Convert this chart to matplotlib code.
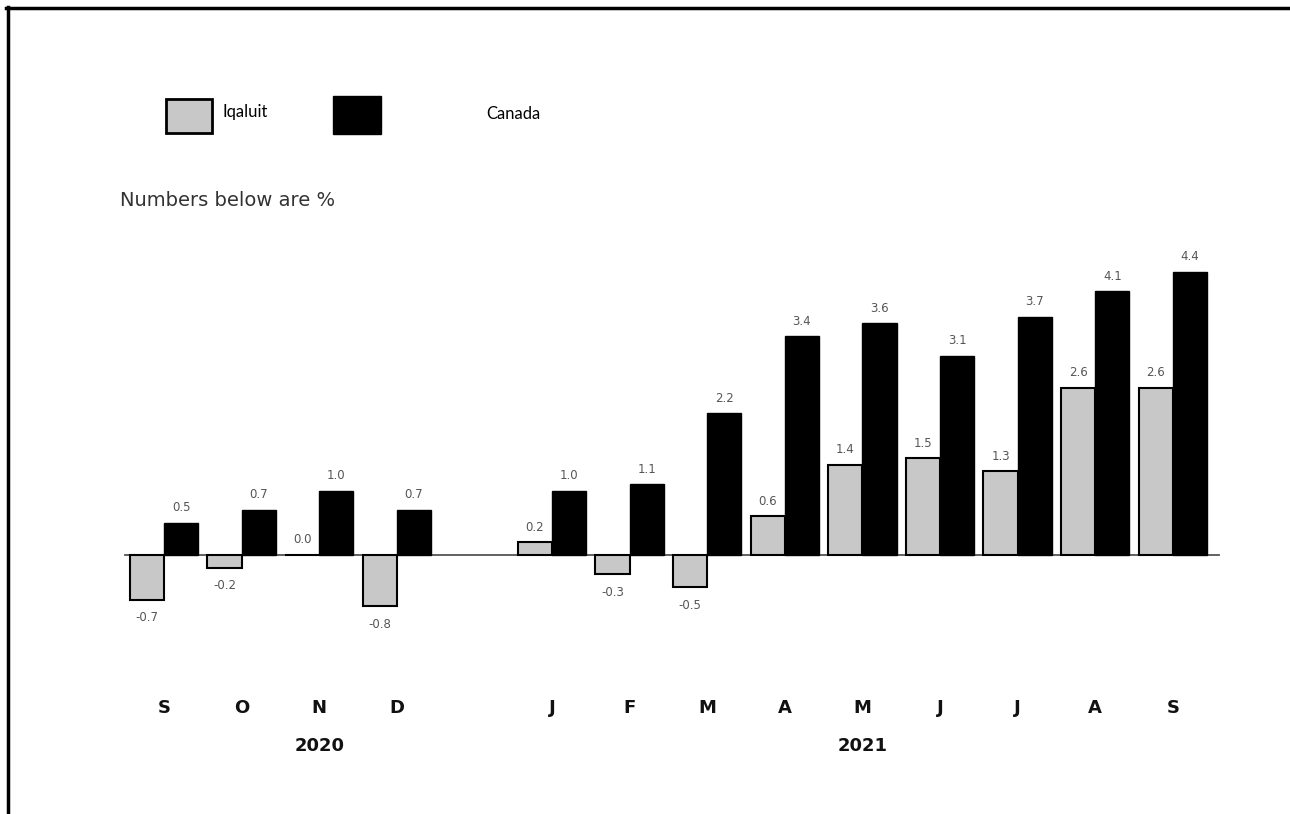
import matplotlib
matplotlib.use("Agg")
import matplotlib.pyplot as plt
from matplotlib.lines import Line2D
from matplotlib.patches import Rectangle
import numpy as np

# Data
months = ["S", "O", "N", "D", "J", "F", "M", "A", "M", "J", "J", "A", "S"]
slots = [0, 1, 2, 3, 5, 6, 7, 8, 9, 10, 11, 12, 13]
years = ["2020", "2021"]
iqaluit = [-0.7, -0.2, 0.0, -0.8, 0.2, -0.3, -0.5, 0.6, 1.4, 1.5, 1.3, 2.6, 2.6]
canada = [0.5, 0.7, 1.0, 0.7, 1.0, 1.1, 2.2, 3.4, 3.6, 3.1, 3.7, 4.1, 4.4]

x = np.array(slots, dtype=float)
width = 0.44

fig = plt.figure(figsize=(12.9, 8.14), dpi=100)
ax = fig.add_axes([0, 0, 1, 1])
ax.set_xlim(-2.113, 14.51)
ax.set_ylim(-4.03, 8.63)
ax.axis("off")

# Bars
ax.bar(x - width / 2, iqaluit, width, color="#c8c8c8", edgecolor="black", linewidth=1.5, zorder=3)
ax.bar(x + width / 2, canada, width, color="black", edgecolor="black", linewidth=1, zorder=3)

# zero line
ax.plot([-0.5, 13.6], [0, 0], color="#555555", linewidth=1.3, zorder=2)

# value labels
label_color = "#555555"
for xi, v in zip(x, iqaluit):
    off = -18 if v < 0 else 15
    ax.annotate(f"{v:.1f}", (xi - width / 2, v), xytext=(0, off), textcoords="offset pixels",
                ha="center", va="center", fontsize=8.5, color=label_color, family="DejaVu Sans")
for xi, v in zip(x, canada):
    ax.annotate(f"{v:.1f}", (xi + width / 2, v), xytext=(0, 15), textcoords="offset pixels",
                ha="center", va="center", fontsize=8.5, color=label_color, family="DejaVu Sans")

# month labels
for xi, m in zip(x, months):
    ax.text(xi, -2.38, m, ha="center", va="center", fontsize=13, fontweight="bold",
            family="DejaVu Sans", color="#111111")

# year labels
ax.text(x[2], -2.97, years[0], ha="center", va="center", fontsize=13,
        fontweight="bold", family="DejaVu Sans", color="#111111")
ax.text(x[8], -2.97, years[1], ha="center", va="center", fontsize=13,
        fontweight="bold", family="DejaVu Sans", color="#111111")

# legend drawn by hand
W, H = 1290.0, 814.0
fig.add_artist(Rectangle((166 / W, 1 - 133 / H), 46 / W, 34 / H, facecolor="#c8c8c8",
                         edgecolor="black", linewidth=2, transform=fig.transFigure))
fig.add_artist(Rectangle((333 / W, 1 - 134 / H), 48 / W, 38 / H, facecolor="black",
                         edgecolor="black", linewidth=1, transform=fig.transFigure))
fig.text(222 / W, 1 - 112 / H, "Iqaluit", ha="left", va="center", fontsize=12, family="Lato")
fig.text(486 / W, 1 - 114 / H, "Canada", ha="left", va="center", fontsize=12, family="Lato")

fig.text(120 / W, 1 - 201 / H, "Numbers below are %", ha="left", va="center", fontsize=14,
         color="#333333", family="DejaVu Sans")

# frame: only top and left
fig.add_artist(Line2D([6 / W, 1], [1 - 8 / H, 1 - 8 / H], color="black", linewidth=2.5,
                      transform=fig.transFigure))
fig.add_artist(Line2D([8 / W, 8 / W], [0, 1 - 7 / H], color="black", linewidth=2.5,
                      transform=fig.transFigure))

fig.savefig("out.png", dpi=100)
